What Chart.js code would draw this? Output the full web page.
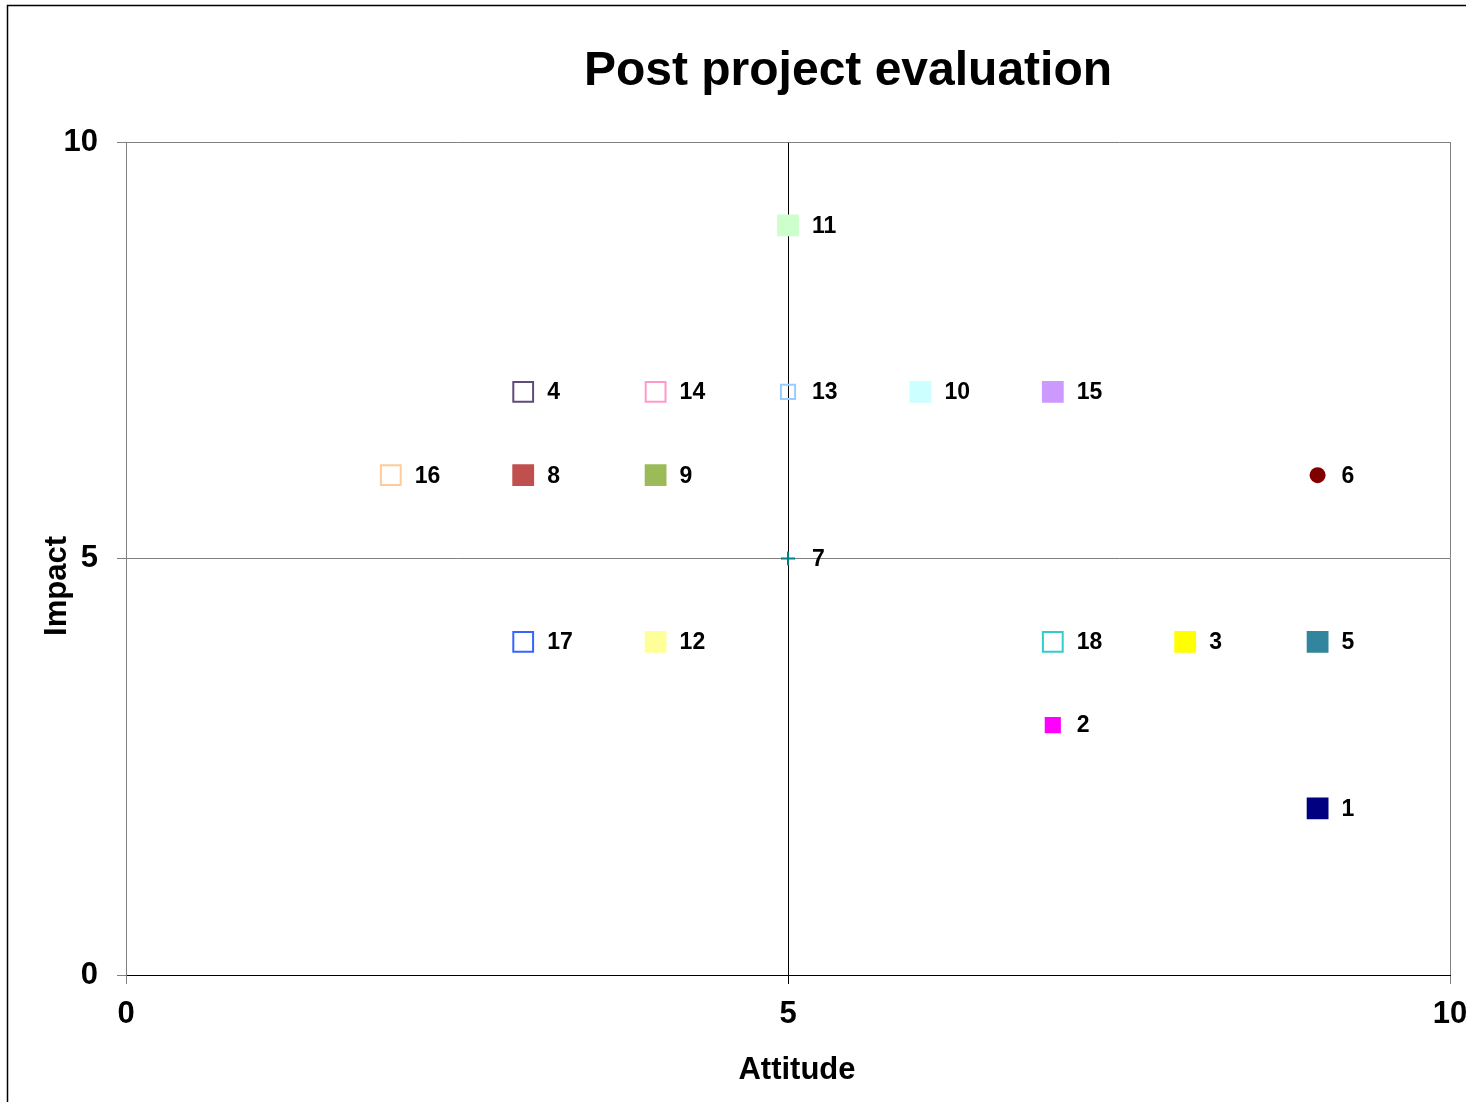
<!DOCTYPE html>
<html>
<head>
<meta charset="utf-8">
<script src="https://cdn.jsdelivr.net/npm/chart.js@4.4.1/dist/chart.umd.min.js"></script>
<style>
    html, body { margin: 0; padding: 0; background: #fff; }
    #grafico { display: block; }
</style>
</head>
<body>
<canvas id="grafico" width="1466" height="1102"></canvas>
<script>
// data
const projectLabels = ["1", "2", "3", "4", "5", "6", "7", "8", "9", "10", "11", "12", "13", "14", "15", "16", "17", "18"];
const attitude = [9, 7, 8, 3, 9, 9, 5, 3, 4, 6, 5, 4, 5, 4, 7, 2, 3, 7];
const impact = [2, 3, 4, 7, 4, 6, 5, 6, 6, 7, 9, 4, 7, 7, 7, 6, 4, 4];
const xTicks = [0, 5, 10];
const yTicks = [0, 5, 10];

// marker styles, one per project
const markerColor = ["#000080", "#FF00FF", "#FFFF00", "#604A7B", "#31859C", "#800000", "#008080", "#C0504D", "#9BBB59",
    "#CCFFFF", "#CCFFCC", "#FFFF99", "#99CCFF", "#FF99CC", "#CC99FF", "#FFCC99", "#3366FF", "#33CCCC"];
const markerOpen = [false, false, false, true, false, false, false, false, false,
    false, false, false, true, true, false, true, true, true];
const markerShape = ["rect", "rect", "rect", "rect", "rect", "circle", "cross", "rect", "rect",
    "rect", "rect", "rect", "rect", "rect", "rect", "rect", "rect", "rect"];
const markerSize = [14, 10, 14, 14, 14, 8, 7, 14, 14, 14, 14, 14, 10, 14, 14, 14, 14, 14];

const FONT = "'Liberation Sans', Arial, sans-serif";
Chart.defaults.font.family = FONT;

const datasets = projectLabels.map(function (lbl, i) {
    return {
        label: lbl,
        data: [{ x: attitude[i], y: impact[i] }],
        pointStyle: markerShape[i],
        pointRadius: markerSize[i],
        pointBackgroundColor: markerOpen[i] ? "rgba(0,0,0,0)" : markerColor[i],
        pointBorderColor: markerColor[i],
        pointBorderWidth: markerShape[i] === "circle" ? 0 : 2,
    };
});

const extras = {
    id: "extras",
    beforeDraw(chart) {
        const c = chart.ctx;
        c.save();
        c.fillStyle = "#fff";
        c.fillRect(0, 0, chart.width, chart.height);
        c.strokeStyle = "#000";
        c.lineWidth = 1.5;
        c.beginPath();
        c.moveTo(7.5, chart.height);
        c.lineTo(7.5, 5.5);
        c.lineTo(chart.width, 5.5);
        c.stroke();
        c.restore();
    },
    afterDatasetsDraw(chart) {
        const c = chart.ctx;
        c.save();
        c.fillStyle = "#000";
        c.font = "bold 23px " + FONT;
        c.textBaseline = "middle";
        c.textAlign = "left";
        chart.data.datasets.forEach(function (ds, i) {
            const pt = chart.getDatasetMeta(i).data[0];
            c.fillText(ds.label, pt.x + 24, pt.y + 1);
        });
        // chart title
        c.textAlign = "center";
        c.textBaseline = "alphabetic";
        c.font = "bold 48px " + FONT;
        c.fillText("Post project evaluation", 848, 85);
        // axis titles
        c.font = "bold 31px " + FONT;
        c.fillText("Attitude", 797, 1079);
        c.translate(66, 586);
        c.rotate(-Math.PI / 2);
        c.fillText("Impact", 0, 0);
        c.restore();
    },
};

new Chart(document.getElementById("grafico").getContext("2d"), {
    type: "scatter",
    data: { datasets: datasets },
    options: {
        responsive: false,
        animation: false,
        events: [],
        layout: { padding: { top: 142, right: 16, left: 0, bottom: 0 } },
        plugins: {
            legend: { display: false },
            tooltip: { enabled: false },
        },
        scales: {
            x: {
                min: 0,
                max: 10,
                afterBuildTicks: function (s) { s.ticks = xTicks.map(v => ({ value: v })); },
                afterFit: function (s) { s.height = 127; s.paddingRight = 0; s.paddingLeft = 0; },
                grid: {
                    color: ctx => (ctx.index === 1 ? "#000" : "#808080"),
                    tickColor: ctx => (ctx.index === 1 ? "#000" : "#808080"),
                    tickLength: 9,
                },
                border: { color: "#000" },
                ticks: {
                    color: "#000",
                    font: { size: 31, weight: "bold" },
                    padding: 12,
                    maxRotation: 0,
                },
            },
            y: {
                min: 0,
                max: 10,
                afterBuildTicks: function (s) { s.ticks = yTicks.map(v => ({ value: v })); },
                afterFit: function (s) { s.width = 126; s.paddingTop = 0; s.paddingBottom = 0; },
                grid: {
                    color: ctx => (ctx.index === 0 ? "#000" : "#808080"),
                    tickColor: "#808080",
                    tickLength: 9,
                },
                border: { color: "#808080" },
                ticks: {
                    color: "#000",
                    font: { size: 31, weight: "bold" },
                    padding: 19,
                },
            },
        },
    },
    plugins: [extras],
});
</script>
</body>
</html>
